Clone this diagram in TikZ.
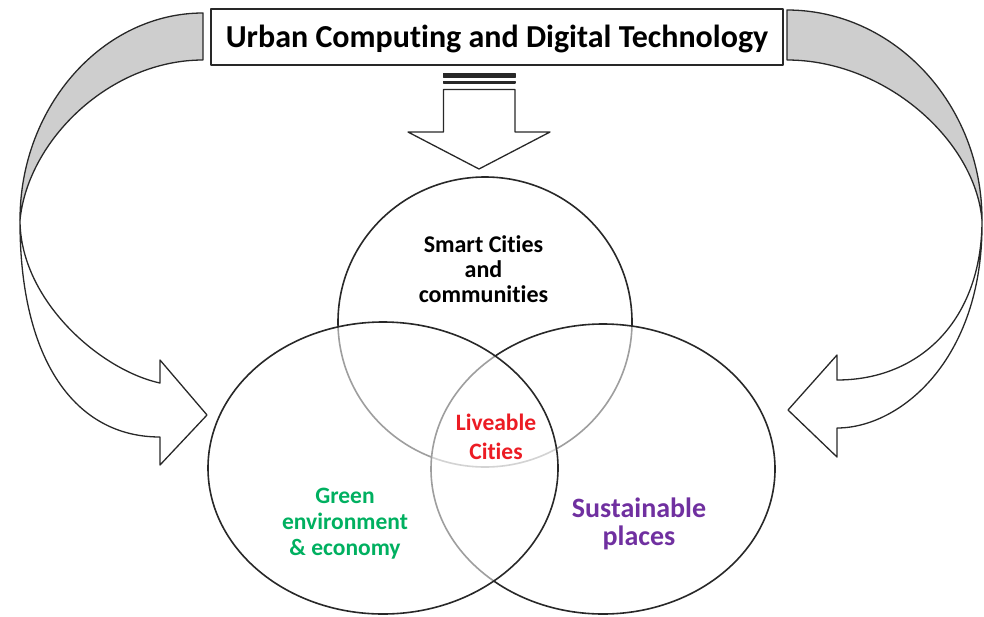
\documentclass[tikz,border=0pt]{standalone}
\usepackage{fontspec}
\setmainfont{Carlito}[Ligatures=NoCommon]
\definecolor{bandgray}{RGB}{206,206,206}
\definecolor{livered}{RGB}{236,28,36}
\definecolor{greentxt}{RGB}{0,176,96}
\definecolor{purpletxt}{RGB}{112,48,160}
\definecolor{inkline}{RGB}{40,40,40}
\tikzset{
  outl/.style={line width=1.3pt, draw=inkline, line join=round},
  bandst/.style={outl, fill=bandgray},
  arrowst/.style={outl, fill=white},
  venn/.style={line width=1.6pt, draw=inkline},
  vennfill/.style={venn, fill=white, fill opacity=0.55},
  lbl/.style={anchor=base, inner sep=0pt, font=\bfseries},
}
\newcommand{\lines}[1]{\begin{tabular}[t]{@{}c@{}}#1\end{tabular}}
\begin{document}
\begin{tikzpicture}[x=1pt,y=-1pt]
\useasboundingbox (0,0) rectangle (984,616);

% curved arrows, left
\draw[bandst] (203,13) .. controls (104,13) and (20,105) .. (20,220)
  .. controls (28,140) and (110,60) .. (203,60) -- cycle;
\draw[arrowst] (20,220) .. controls (20,300) and (100,370) .. (160,383)
  -- (160,360) -- (207,415) -- (160,465) -- (160,437)
  .. controls (75,437) and (20,360) .. (20,222) -- cycle;

% curved arrows, right
\draw[bandst] (787,10) .. controls (894,10) and (982,104) .. (982,220)
  .. controls (975,140) and (885,60) .. (787,60) -- cycle;
\draw[arrowst] (982,220) .. controls (982,320) and (920,380) .. (837,380)
  -- (837,355) -- (788,410) -- (837,457) -- (837,428)
  .. controls (900,428) and (982,360) .. (982,225) -- cycle;

% title box
\node[outl, minimum width=572pt, minimum height=56pt, inner sep=0pt,
      text height=26pt, text depth=6pt, fill=white,
      font=\fontsize{32}{38}\selectfont\bfseries] (title) at (497,37)
  {Urban Computing and Digital Technology};

% striped down arrow
\draw[outl, fill=inkline] (443.5,73.5) rectangle (515,77.5);
\draw[outl, fill=white] (443.5,81.5) rectangle (515,83);
\draw[arrowst] (443.5,89.5) -- (515,89.5) -- (515,132) -- (550,132)
  -- (479,169) -- (408,132) -- (443.5,132) -- cycle;

% Venn diagram
\draw[venn] (485,322) ellipse [x radius=147pt, y radius=145pt];
\draw[vennfill] (603,469) ellipse [x radius=172pt, y radius=145pt];
\draw[vennfill] (383,468) ellipse [x radius=175pt, y radius=146pt];

% labels
\node[lbl, text=black, font=\fontsize{24}{25}\selectfont\bfseries] (smart) at (483.5,252)
  {\lines{Smart Cities\\and\\communities}};
\node[lbl, text=livered, font=\fontsize{23.5}{29}\selectfont\bfseries] (live) at (496,430)
  {\lines{Liveable\\Cities}};
\node[lbl, text=greentxt, font=\fontsize{23.5}{26}\selectfont\bfseries] (green) at (345,503)
  {\lines{Green\\environment\\\& economy}};
\node[lbl, text=purpletxt, font=\fontsize{28}{28}\selectfont\bfseries] (sust) at (639,517)
  {\lines{Sustainable\\places}};
\end{tikzpicture}
\end{document}
